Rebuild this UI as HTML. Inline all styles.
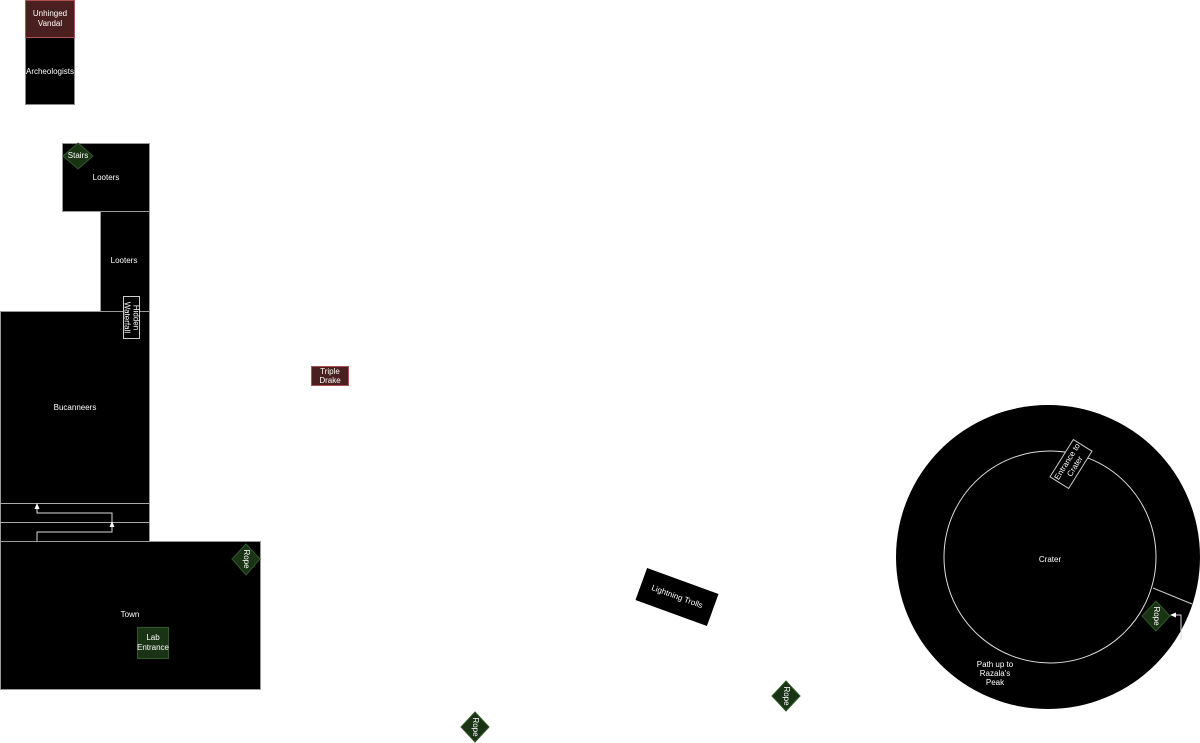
<!DOCTYPE html>
<html><head><meta charset="utf-8"><style>
html,body{margin:0;padding:0;background:#fff;width:1200px;height:743px;overflow:hidden}
text{font-family:"Liberation Sans",sans-serif;font-size:8px;fill:#fff;text-anchor:middle;dominant-baseline:middle}
</style></head><body>
<svg width="1200" height="743" viewBox="0 0 1200 743" xmlns="http://www.w3.org/2000/svg">
<!-- Archeologists -->
<rect x="25.5" y="0.5" width="49" height="104" fill="#000" stroke="#888"/>
<rect x="25.5" y="0.5" width="49" height="37" fill="#4a1f1f" stroke="#b05050"/>
<text x="50" y="14">Unhinged</text><text x="50" y="24">Vandal</text>
<text x="50" y="72">Archeologists</text>
<!-- Looters 1 -->
<rect x="62.5" y="143.5" width="87" height="68" fill="#000" stroke="#999"/>
<text x="106" y="178">Looters</text>
<polygon points="78,143 93,156 78,169 63,156" fill="#1a3315" stroke="#2f5a28"/>
<text x="78" y="156">Stairs</text>
<!-- Looters 2 -->
<rect x="100.5" y="211.5" width="49" height="100" fill="#000" stroke="#999"/>
<text x="124" y="261">Looters</text>
<!-- Bucanneers -->
<rect x="0.5" y="311.5" width="149" height="230" fill="#000" stroke="#999"/>
<text x="75" y="408">Bucanneers</text>
<line x1="0" y1="503.5" x2="150" y2="503.5" stroke="#aaa"/>
<line x1="0" y1="522.5" x2="150" y2="522.5" stroke="#aaa"/>
<polyline points="37,541 37,532 112,532 112,524" fill="none" stroke="#ddd"/>
<polygon points="112,521 109.5,527 114.5,527" fill="#fff"/>
<polyline points="112,522 112,513 37,513 37,506" fill="none" stroke="#ddd"/>
<polygon points="37,503 34.5,509 39.5,509" fill="#fff"/>
<!-- Hidden Waterfall -->
<rect x="123.5" y="296.5" width="16" height="42" fill="#000" stroke="#ccc"/>
<text transform="translate(131.5 317.5) rotate(90)" y="-4">Hidden</text>
<text transform="translate(131.5 317.5) rotate(90)" y="5">Waterfall</text>
<!-- Town -->
<rect x="0.5" y="541.5" width="260" height="148" fill="#000" stroke="#999"/>
<text x="130" y="615">Town</text>
<rect x="137.5" y="627.5" width="31" height="31" fill="#1a3315" stroke="#2f5a28"/>
<text x="153" y="638">Lab</text><text x="153" y="648">Entrance</text>
<polygon points="246,544 260,559 246,575 232,559" fill="#1a3315" stroke="#2f5a28"/>
<text transform="translate(246 559) rotate(90)">Rope</text>
<!-- Triple Drake -->
<rect x="311.5" y="366.5" width="37" height="19" fill="#4a1f1f" stroke="#b05050"/>
<text x="330" y="372">Triple</text><text x="330" y="381">Drake</text>
<!-- Lightning Trolls -->
<g transform="translate(677 597) rotate(20)">
<rect x="-38" y="-17" width="76" height="34" fill="#000"/>
<text>Lightning Trolls</text></g>
<!-- Ropes -->
<polygon points="786,681 800,696 786,711 772,696" fill="#1a3315" stroke="#2f5a28"/>
<text transform="translate(786 696) rotate(90)">Rope</text>
<polygon points="475,712 489,727 475,742 461,727" fill="#1a3315" stroke="#2f5a28"/>
<text transform="translate(475 727) rotate(90)">Rope</text>
<!-- Crater -->
<circle cx="1048" cy="557" r="152" fill="#000"/>
<circle cx="1050" cy="557" r="106" fill="none" stroke="#ddd"/>
<text x="1050" y="560">Crater</text>
<line x1="1153" y1="588" x2="1192" y2="604" stroke="#ccc"/>
<g transform="translate(1071 464) rotate(-58)">
<rect x="-22" y="-11" width="44" height="22" fill="#000" stroke="#ccc"/>
<text y="-4">Entrance to</text><text y="5">Crater</text></g>
<polygon points="1156,601 1170,616 1156,631 1142,616" fill="#1a3315" stroke="#2f5a28"/>
<text transform="translate(1156 616) rotate(90)">Rope</text>
<polyline points="1181,640 1181,615 1174,615" fill="none" stroke="#ddd"/>
<polygon points="1170,615 1176,612.5 1176,617.5" fill="#fff"/>
<text x="995" y="665">Path up to</text><text x="995" y="674">Razala's</text><text x="995" y="683">Peak</text>
</svg>
</body></html>
